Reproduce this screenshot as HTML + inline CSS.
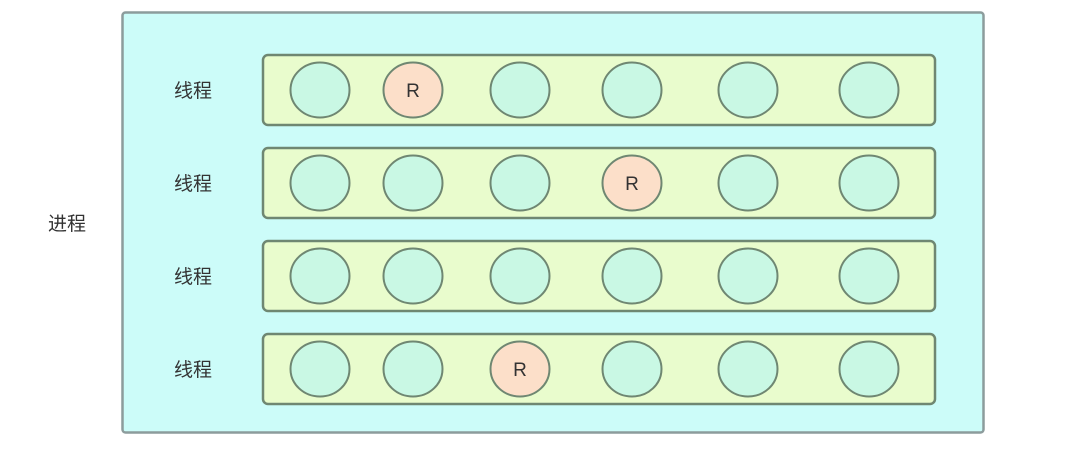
<!DOCTYPE html>
<html><head><meta charset="utf-8"><style>
html,body{margin:0;padding:0;background:#fff;width:1080px;height:449px;overflow:hidden}
text{font-family:"Liberation Sans","Noto Sans CJK SC",sans-serif}
</style></head><body>
<svg id="d" width="1080" height="449" viewBox="0 0 1080 449">
<rect x="122.5" y="12.5" width="861" height="420" rx="3" fill="#ccfcf9" stroke="#8c9c9c" stroke-width="2.5"/>
<text x="67" y="230" font-size="19" fill="#333" text-anchor="middle">进程</text>
<g id="rows"></g>
</svg>
<script>
const rowYs=[55,148,241,334];
const circleXs=[320,413,520,632,748,869];
const rIndex=[1,3,-1,2];
const NS="http://www.w3.org/2000/svg";
const g=document.getElementById('rows');
rowYs.forEach((y,i)=>{
  const lab=document.createElementNS(NS,'text');
  
  
  lab.setAttribute('x',193);lab.setAttribute('y',y+42);lab.setAttribute('font-size',19);
  lab.setAttribute('fill','#333');lab.setAttribute('text-anchor','middle');lab.textContent='线程';
  g.appendChild(lab);
  const r=document.createElementNS(NS,'rect');
  
  
  r.setAttribute('x',263);r.setAttribute('y',y);r.setAttribute('width',672);r.setAttribute('height',70);
  r.setAttribute('rx',5);r.setAttribute('fill','#e9fccd');r.setAttribute('stroke','#6f8772');r.setAttribute('stroke-width',2.5);
  g.appendChild(r);
  circleXs.forEach((cx,j)=>{
    const isR=rIndex[i]===j;
    const c=document.createElementNS(NS,'ellipse');
    
    
    c.setAttribute('cx',cx);c.setAttribute('cy',y+35);c.setAttribute('rx',29.5);c.setAttribute('ry',27.5);
    c.setAttribute('fill',isR?'#fcdfc9':'#c9f8e4');c.setAttribute('stroke','#6f8772');c.setAttribute('stroke-width',2);
    g.appendChild(c);
    if(isR){
      const t=document.createElementNS(NS,'text');
      
      
      t.setAttribute('x',cx);t.setAttribute('y',y+42);t.setAttribute('font-size',19);
      t.setAttribute('fill','#333');t.setAttribute('text-anchor','middle');t.textContent='R';
      g.appendChild(t);
    }
  });
});
</script>
</body></html>
